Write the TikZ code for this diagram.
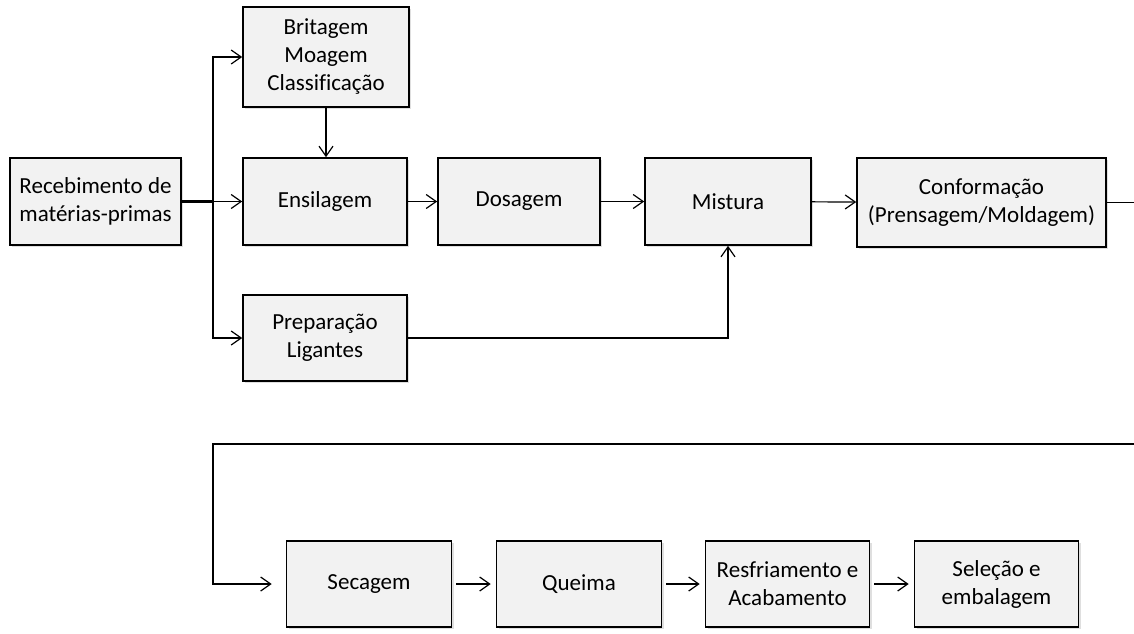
\documentclass[tikz,border=0pt]{standalone}
\usepackage{fontspec}
\setmainfont{Carlito}[Ligatures=CommonOff]
\usetikzlibrary{arrows.meta,positioning,shadows}
\definecolor{boxgray}{RGB}{242,242,242}
\tikzset{
  procbox/.style={draw=black, line width=0.8pt, fill=boxgray, align=center,
    inner sep=2pt, font=\fontsize{11.5}{14}\selectfont,
    drop shadow={opacity=0.25, shadow xshift=1pt, shadow yshift=-1pt}},
  flow/.style={line width=0.6pt, -{Straight Barb[length=5pt,width=7pt]}}
}
\begin{document}
\begin{tikzpicture}[x=0.5pt, y=-0.5pt]
\useasboundingbox (0,0) rectangle (1134,633);
% First row
\node[procbox, minimum width=85.5pt, minimum height=43.5pt] (rec) at (95.5,201.5) {Recebimento de\\matérias-primas};
\node[procbox, minimum width=83pt, minimum height=50pt] (brit) at (326,57) {Britagem\\Moagem\\Classificação};
\node[procbox, minimum width=82pt, minimum height=43.5pt] (ens) at (325,201.5) {Ensilagem};
\node[procbox, minimum width=81pt, minimum height=43.5pt] (dos) at (519,201.5) {Dosagem};
\node[procbox, minimum width=83pt, minimum height=43.5pt] (mis) at (728,201.5) {Mistura};
\node[procbox, minimum width=124.5pt, minimum height=44.5pt] (conf) at (981.5,202.5) {Conformação\\(Prensagem/Moldagem)};
\node[procbox, minimum width=82pt, minimum height=43pt] (prep) at (325,338) {Preparação\\Ligantes};
% Second row
\node[procbox, minimum width=82.5pt, minimum height=43pt] (sec) at (369,584) {Secagem};
\node[procbox, minimum width=82.5pt, minimum height=43pt] (que) at (579,584) {Queima};
\node[procbox, minimum width=82pt, minimum height=43pt] (res) at (787.5,584) {Resfriamento e\\Acabamento};
\node[procbox, minimum width=82pt, minimum height=43pt] (sel) at (996.5,584) {Seleção e\\embalagem};
% Connectors
\coordinate (split) at (213,201.5);
\coordinate (confend) at (1134,202.5);
\coordinate (loopR) at (1134,444);
\coordinate (loopL) at (213,444);
\draw[line width=1.1pt] (rec.east) -- (split);
\draw[flow] (split) -- (ens.west);
\draw[flow] (split) |- (brit.west);
\draw[flow] (split) |- (prep.west);
\draw[flow] (brit.south) -- (brit.south |- ens.north);
\draw[flow] (ens) -- (dos);
\draw[flow] (dos) -- (mis);
\draw[flow] (mis) -- (conf);
\draw[flow] (prep.east) -| (mis.south);
\draw[line width=0.6pt] (conf.east) -- (confend);
\draw[flow, shorten >=7pt] (loopR) -- (loopL) |- (sec.west);
\draw[flow, shorten >=2.5pt, shorten <=2pt] (sec) -- (que);
\draw[flow, shorten >=2.5pt, shorten <=2pt] (que) -- (res);
\draw[flow, shorten >=2.5pt, shorten <=2pt] (res) -- (sel);
\end{tikzpicture}
\end{document}
